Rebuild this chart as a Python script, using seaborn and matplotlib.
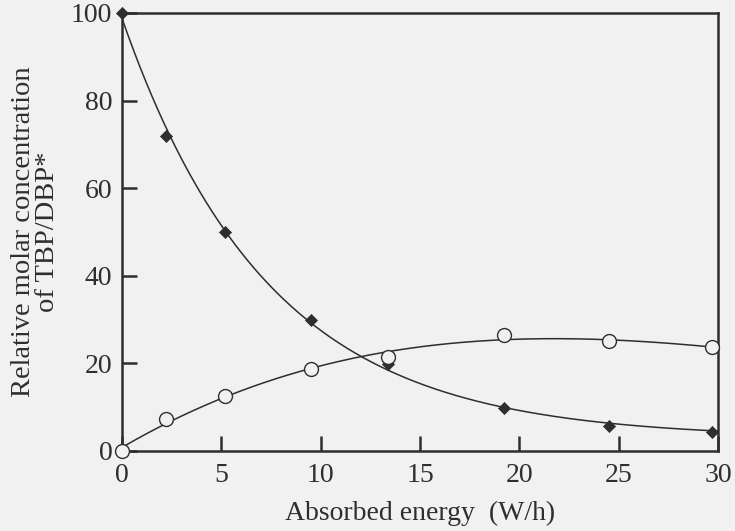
import numpy as np
import pandas as pd
import matplotlib
matplotlib.use("Agg")
import matplotlib.pyplot as plt
import seaborn as sns

# Absorbed energy (W/h) and relative molar concentrations
energy = [0.0, 2.2, 5.2, 9.5, 13.4, 19.2, 24.5, 29.7]
tbp = [100.0, 71.9, 50.0, 29.9, 19.9, 9.8, 5.7, 4.3]
dbp = [0.0, 7.3, 12.6, 18.7, 21.5, 26.5, 25.1, 23.7]

x_ticks = [0, 5, 10, 15, 20, 25, 30]
y_ticks = [0, 20, 40, 60, 80, 100]

sns.set_theme(style="ticks")
plt.rcParams["font.family"] = ["Liberation Serif", "DejaVu Serif"]

ink = "#2e2e2e"
paper = "#f1f1f1"

e = np.asarray(energy)
t = np.asarray(tbp)
d = np.asarray(dbp)

# TBP decay: least-squares fit of A*exp(-k x) + C, scanning k
best = None
for k in np.linspace(0.05, 0.3, 501):
    M = np.column_stack([np.exp(-k * e), np.ones_like(e)])
    coef, *_ = np.linalg.lstsq(M, t, rcond=None)
    r = np.sum((M @ coef - t) ** 2)
    if best is None or r < best[0]:
        best = (r, k, coef)
_, k_fit, (a_fit, c_fit) = best

# DBP build-up: cubic least-squares fit
p_dbp = np.polyfit(e, d, 3)

xs = np.linspace(0, 30, 300)
curves = pd.DataFrame({
    "x": np.concatenate([xs, xs]),
    "y": np.concatenate([a_fit * np.exp(-k_fit * xs) + c_fit, np.polyval(p_dbp, xs)]),
    "series": ["TBP"] * len(xs) + ["DBP"] * len(xs),
})
points = pd.DataFrame({
    "x": energy + energy,
    "y": tbp + dbp,
    "series": ["TBP"] * len(energy) + ["DBP"] * len(energy),
})

fig = plt.figure(figsize=(7.35, 5.31), dpi=100, facecolor=paper)
ax = fig.add_axes([0.166, 0.1507, 0.811, 0.825])
ax.set_facecolor(paper)

sns.lineplot(data=curves, x="x", y="y", hue="series", palette={"TBP": ink, "DBP": ink},
             linewidth=1.1, legend=False, ax=ax)
sns.scatterplot(data=points[points.series == "TBP"], x="x", y="y", marker="D", s=38,
                color=ink, edgecolor=ink, linewidth=0.5, legend=False, ax=ax, zorder=3,
                clip_on=False)
sns.scatterplot(data=points[points.series == "DBP"], x="x", y="y", marker="o", s=100,
                facecolor=paper, edgecolor=ink, linewidth=1.0, legend=False, ax=ax, zorder=3,
                clip_on=False)

ax.set_xlim(0, 30)
ax.set_ylim(0, 100)
ax.set_xticks(x_ticks)
ax.set_yticks(y_ticks)
ax.tick_params(direction="in", length=11, width=1.8, color=ink, labelcolor=ink,
               labelsize=20, pad=7)
ax.tick_params(axis="x", pad=9)
for s in ax.spines.values():
    s.set_linewidth(1.8)
    s.set_color(ink)

ax.set_xlabel("Absorbed energy  (W/h)", fontsize=20, color=ink, labelpad=9)
ax.set_ylabel("Relative molar concentration\nof TBP/DBP*", fontsize=20.5, color=ink,
              labelpad=8, linespacing=0.92)

fig.savefig("out.png", dpi=100, facecolor=paper)
